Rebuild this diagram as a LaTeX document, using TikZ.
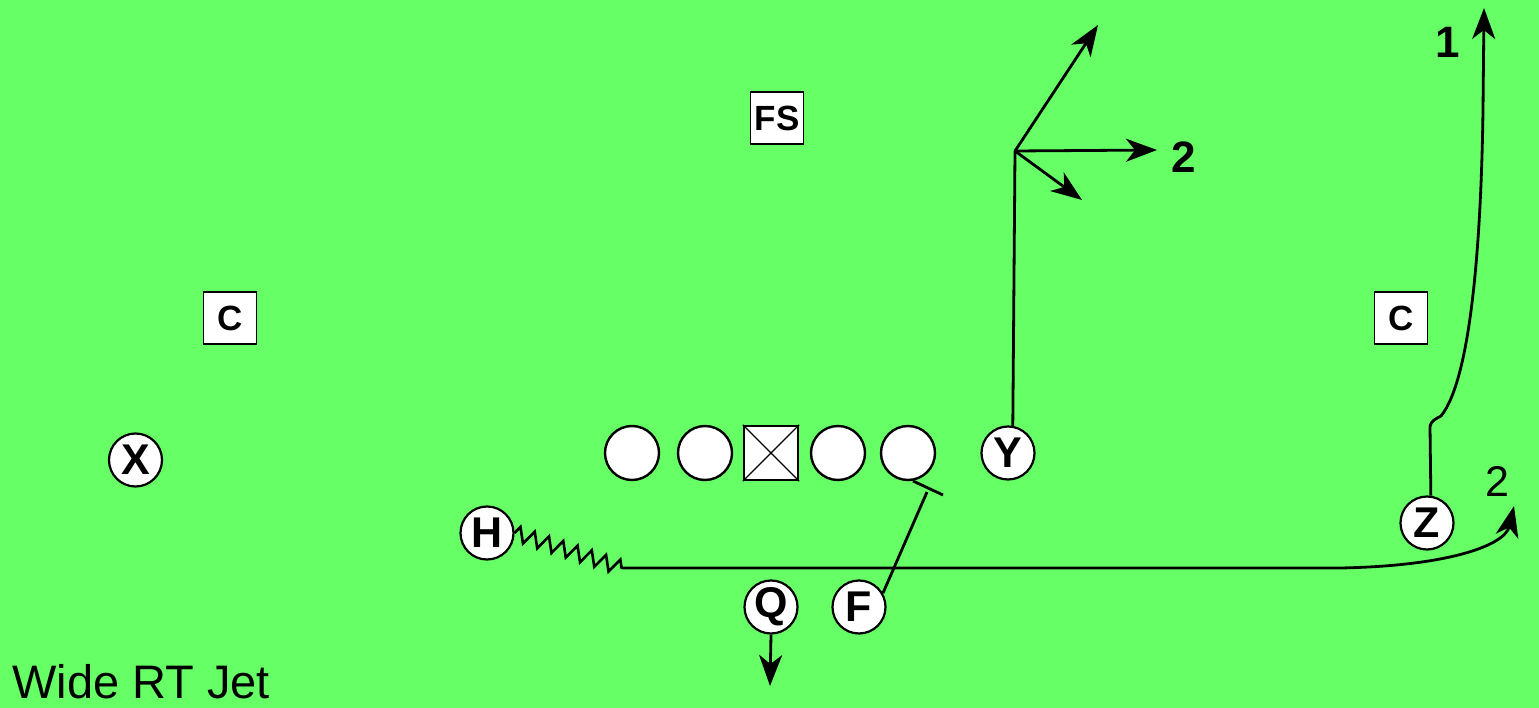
\documentclass[tikz,border=0pt]{standalone}
\usepackage{fontspec}
\setmainfont{Liberation Sans}
\usetikzlibrary{arrows.meta,decorations.pathmorphing}
\definecolor{field}{HTML}{66FF66}
\begin{document}
\begin{tikzpicture}[x=1pt,y=-1pt,
  player/.style={circle,draw,fill=white,line width=2.2pt,minimum size=53pt,inner sep=0pt,font=\fontsize{43}{43}\selectfont\bfseries},
  lineman/.style={circle,draw,fill=white,line width=2.4pt,minimum size=54pt,inner sep=0pt},
  centerbox/.style={rectangle,draw,fill=white,line width=2.4pt,minimum size=54pt,inner sep=0pt},
  defender/.style={rectangle,draw,fill=white,line width=1.8pt,minimum width=53pt,minimum height=52pt,inner sep=0pt,font=\fontsize{35}{35}\selectfont\bfseries},
  route/.style={line width=2.8pt},
  tip/.style={-{Stealth[length=31pt,width=23pt,inset=9pt]}},
  lbl/.style={font=\fontsize{44}{44}\selectfont\bfseries,inner sep=0pt}]
\fill[field] (0,0) rectangle (1539,708);
\useasboundingbox (0,0) rectangle (1539,708);

% defense
\node[defender] (fs) at (777,118) {FS};
\node[defender] (cl) at (230,318) {C};
\node[defender] (cr) at (1401,318) {C};

% offensive line
\node[lineman] (lt) at (632,453) {};
\node[lineman] (lg) at (705,453) {};
\node[centerbox] (ctr) at (771,453) {};
\node[lineman] (rg) at (838,453) {};
\node[lineman] (rt) at (908,453) {};
\draw[line width=1.2pt] (ctr.north west) -- (ctr.south east);
\draw[line width=1.2pt] (ctr.north east) -- (ctr.south west);

% skill players
\node[player] (X) at (135.5,460) {X};
\node[player] (Y) at (1008,453) {Y};
\node[player] (H) at (487,533) {H};
\node[player] (Q) at (771,607) {Q};
\node[player] (F) at (859,607) {F};
\node[player] (Z) at (1427,523) {Z};

% Y route
\coordinate (yb) at (1015,151);
\coordinate (y1) at (1098,25);
\coordinate (y2) at (1157,150);
\coordinate (y3) at (1082,200);
\draw[route,line cap=round] (Y.80) -- (yb);
\draw[route,tip] (yb) -- (y1);
\draw[route,tip] (yb) -- (y2);
\draw[route,tip] (yb) -- (y3);
\node[lbl] (y2l) at (1183.5,157.5) {2};

% Z route
\coordinate (zt) at (1484,8);
\draw[route,tip] (Z.82) -- (1430,427) .. controls (1431,420) and (1436,419) .. (1441,416)
  .. controls (1470,380) and (1481,250) .. (1483,110) -- (zt);
\node[lbl] (z1l) at (1448,42) {1};

% H jet motion
\coordinate (jz) at (622,568);
\coordinate (jt) at (1514,506);
\draw[line width=2.6pt,decorate,decoration={zigzag,segment length=15pt,amplitude=7.5pt}] (H.east) -- (jz);
\draw[route,tip] (jz) -- (1340,568) .. controls (1450,566) and (1505,545) .. (jt);
\node[font=\fontsize{43}{43}\selectfont,inner sep=0pt] (j2l) at (1497,481) {2};

% Q drop
\coordinate (qt) at (770,686);
\draw[route,tip] (Q.south) -- (qt);

% F block
\coordinate (fb) at (927,492);
\coordinate (fb1) at (913,481);
\coordinate (fb2) at (943,495);
\draw[route] (F.30) -- (fb);
\draw[route] (fb1) -- (fb2);

% title
\node[anchor=base west,inner sep=0pt,font=\fontsize{47}{47}\selectfont] (title) at (12,698) {Wide RT Jet};
\end{tikzpicture}
\end{document}
